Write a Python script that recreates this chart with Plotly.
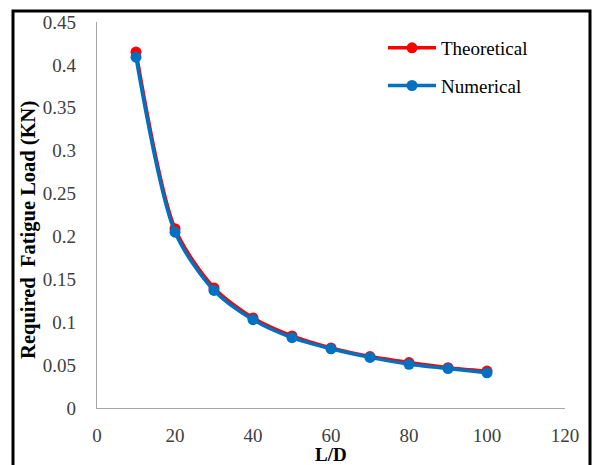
import plotly.graph_objects as go

ld = [10, 20, 30, 40, 50, 60, 70, 80, 90, 100]
theoretical = [0.415, 0.209, 0.140, 0.105, 0.084, 0.070, 0.060, 0.053, 0.047, 0.043]
numerical = [0.409, 0.205, 0.137, 0.103, 0.082, 0.069, 0.059, 0.051, 0.046, 0.041]
x_ticks = [0, 20, 40, 60, 80, 100, 120]
y_ticks = [0, 0.05, 0.1, 0.15, 0.2, 0.25, 0.3, 0.35, 0.4, 0.45]
y_labels = ["0", "0.05", "0.1", "0.15", "0.2", "0.25", "0.3", "0.35", "0.4", "0.45"]

FONT = "Liberation Serif"

fig = go.Figure()
fig.add_trace(go.Scatter(
    x=ld, y=theoretical, name="Theoretical", mode="lines+markers", legendgroup="t",
    line=dict(color="#ff0000", width=3.5, shape="spline", smoothing=0.8),
    marker=dict(color="#ff0000", size=11),
))
fig.add_trace(go.Scatter(
    x=ld, y=numerical, name="Numerical", mode="lines+markers", legendgroup="n",
    line=dict(color="#0070c0", width=3.5, shape="spline", smoothing=0.8),
    marker=dict(color="#0070c0", size=11),
))

L, R, T, B = 97, 31, 20, 57
W, H = 596, 465
pw, ph = W - L - R, H - T - B

def px(xp):
    return (xp - L) / pw

def py(yp):
    return (H - B - yp) / ph

fig.update_layout(
    width=W, height=H,
    margin=dict(l=L, r=R, t=T, b=B),
    paper_bgcolor="white", plot_bgcolor="white",
    font=dict(family=FONT, size=16, color="#404040"),
    showlegend=True,
    legend=dict(x=px(383), y=py(27), xanchor="left", yanchor="top",
                font=dict(family=FONT, size=19, color="#000000"),
                bgcolor="rgba(0,0,0,0)", tracegroupgap=10, itemwidth=48),
    xaxis=dict(range=[0, 120], tickvals=x_ticks, showgrid=False, zeroline=False,
               showline=True, linecolor="#a6a6a6", linewidth=1.3, ticks="",
               ticklabelstandoff=10,
               tickfont=dict(family=FONT, size=19, color="#404040")),
    yaxis=dict(range=[0, 0.45], tickvals=y_ticks, ticktext=y_labels, showgrid=False,
               zeroline=False, showline=True, linecolor="#a6a6a6", linewidth=1.3,
               ticks="", ticklabelstandoff=16,
               tickfont=dict(family=FONT, size=19, color="#404040")),
    annotations=[
        dict(text="<b>L/D</b>", xref="paper", yref="paper", x=px(331), y=py(455),
             xanchor="center", yanchor="middle", showarrow=False,
             font=dict(family=FONT, size=19, color="#000000")),
        dict(text="<b>Required  Fatigue Load (KN)</b>", xref="paper", yref="paper",
             x=px(29), y=py(229), xanchor="center", yanchor="middle", textangle=-90,
             showarrow=False, font=dict(family=FONT, size=20.5, color="#000000")),
    ],
    shapes=[
        dict(type="path", xref="paper", yref="paper",
             path=f"M {px(13)},{py(470)} L {px(13)},{py(9)} L {px(590)},{py(9)} L {px(590)},{py(470)}",
             line=dict(color="black", width=3)),
    ],
)

fig.write_html("out.html")
